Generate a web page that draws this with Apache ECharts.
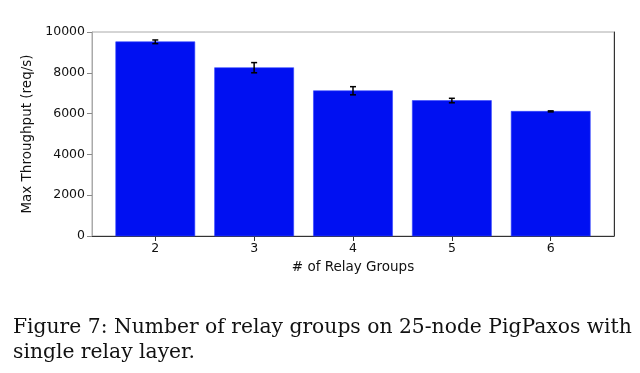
<!DOCTYPE html>
<html>
<head>
<meta charset="utf-8">
<script src="https://cdn.jsdelivr.net/npm/echarts@6/dist/echarts.min.js"></script>
<style>html,body{margin:0;padding:0;background:#fff;}#c{width:640px;height:373px;}</style>
</head>
<body>
<div id="c"></div>
<script>
const groups = [2, 3, 4, 5, 6];
const throughput = [9520, 8250, 7120, 6640, 6110];
const errors = [90, 250, 200, 110, 25];
const yTicks = [0, 2000, 4000, 6000, 8000, 10000];
const xLabel = '# of Relay Groups';
const yLabel = 'Max Throughput (req/s)';
const captionLines = ['Figure 7: Number of relay groups on 25-node PigPaxos with', 'single relay layer.'];

const chart = echarts.init(document.getElementById('c'), null, {renderer: 'canvas'});
const barData = groups.map((g, i) => [g, throughput[i]]);
const errData = groups.map((g, i) => [g, throughput[i] - errors[i], throughput[i] + errors[i]]);
const font = 'DejaVu Sans';

chart.setOption({
  animation: false,
  backgroundColor: '#fff',
  grid: {left: 92, right: 26, top: 32, bottom: 137, containLabel: false,
         show: true, borderColor: '#aaa', borderWidth: 1, backgroundColor: 'transparent'},
  xAxis: [{
    type: 'value', min: 1.36, max: 6.64, position: 'bottom',
    name: xLabel, nameLocation: 'middle', nameGap: 24,
    nameTextStyle: {fontFamily: font, fontSize: 13.5, color: '#111'},
    axisLine: {show: true, lineStyle: {color: '#333', width: 1}},
    axisTick: {show: true, length: 5, lineStyle: {color: '#333'}, customValues: groups},
    axisLabel: {fontFamily: font, fontSize: 12.5, color: '#111', margin: 6, customValues: groups},
    splitLine: {show: false}
  }],
  yAxis: [{
    type: 'value', min: 0, max: 10000, interval: 2000, position: 'left',
    name: yLabel, nameLocation: 'middle', nameGap: 50,
    nameTextStyle: {fontFamily: font, fontSize: 13.5, color: '#111'},
    axisLine: {show: true, lineStyle: {color: '#aaa', width: 1}},
    axisTick: {show: true, length: 5, lineStyle: {color: '#888'}, customValues: yTicks},
    axisLabel: {fontFamily: font, fontSize: 12.5, color: '#111', margin: 7, customValues: yTicks,
                formatter: v => String(v)},
    splitLine: {show: false}
  }, {
    type: 'value', min: 0, max: 10000, interval: 2000, position: 'right',
    axisLine: {show: true, lineStyle: {color: '#333', width: 1}},
    axisTick: {show: false}, axisLabel: {show: false}, splitLine: {show: false}
  }],
  series: [{
    type: 'custom',
    data: barData,
    encode: {x: 0, y: 1},
    renderItem: function (params, api) {
      const x = api.value(0), y = api.value(1);
      const p0 = api.coord([x - 0.4, y]);
      const p1 = api.coord([x + 0.4, 0]);
      return {
        type: 'rect',
        shape: {x: p0[0], y: p0[1], width: p1[0] - p0[0], height: p1[1] - p0[1]},
        style: {fill: '#0010f2', stroke: '#3344ff', lineWidth: 0.6}
      };
    }
  }, {
    type: 'custom',
    data: errData,
    encode: {x: 0, y: [1, 2]},
    z: 5,
    renderItem: function (params, api) {
      const x = api.value(0);
      const lo = api.coord([x, api.value(1)]);
      const hi = api.coord([x, api.value(2)]);
      const cap = 3;
      const st = {stroke: '#000', lineWidth: 1.5};
      return {
        type: 'group',
        children: [
          {type: 'line', shape: {x1: lo[0], y1: lo[1], x2: hi[0], y2: hi[1]}, style: st},
          {type: 'line', shape: {x1: lo[0] - cap, y1: lo[1], x2: lo[0] + cap, y2: lo[1]}, style: st},
          {type: 'line', shape: {x1: hi[0] - cap, y1: hi[1], x2: hi[0] + cap, y2: hi[1]}, style: st}
        ]
      };
    }
  }],
  graphic: captionLines.map((t, i) => ({
    type: 'text', left: 13, top: 318 + i * 25,
    style: {text: t, fontFamily: 'DejaVu Serif', fontSize: 20.3, fill: '#111'}
  }))
});
</script>
</body>
</html>
